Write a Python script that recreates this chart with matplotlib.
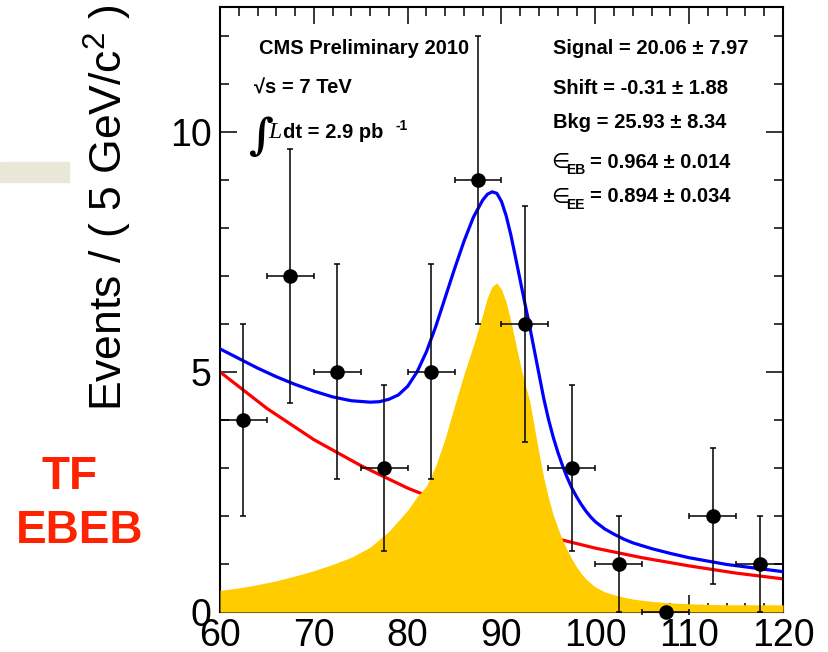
import numpy as np
import matplotlib
matplotlib.use("Agg")
import matplotlib.pyplot as plt
from matplotlib.patches import Rectangle
from matplotlib.ticker import MultipleLocator

plt.rcParams['font.family'] = ['Liberation Sans', 'DejaVu Sans']
plt.rcParams['mathtext.fontset'] = 'custom'
plt.rcParams['mathtext.rm'] = 'Liberation Sans'
plt.rcParams['mathtext.bf'] = 'Liberation Sans:bold'

# data points (bin centres, counts, errors)
bin_x = [62.5, 67.5, 72.5, 77.5, 82.5, 87.5, 92.5, 97.5, 102.5, 107.5, 112.5, 117.5]
counts = [4, 7, 5, 3, 5, 9, 6, 3, 1, 0, 2, 1]
err_y = [2.0, 2.65, 2.24, 1.73, 2.24, 3.0, 2.45, 1.73, 1.0, 0.0, 1.41, 1.0]
err_x = [2.5] * 12

# background curve
bkg_x = [60, 65, 70, 75, 80, 85, 90, 95, 100, 105, 110, 115, 120]
bkg_y = [5.00, 4.24, 3.59, 3.05, 2.58, 2.19, 1.86, 1.57, 1.33, 1.13, 0.96, 0.81, 0.69]

# signal shape (yellow)
sig_x = [60, 62, 64, 66, 68, 70, 72, 74, 76, 78, 80, 81, 82, 83, 84, 85, 86, 87,
         88, 88.5, 89, 89.5, 90, 90.5, 91, 91.5, 92, 92.5, 93, 93.5, 94, 94.5,
         95, 95.5, 96, 96.5, 97, 97.5, 98, 98.5, 99, 99.5, 100, 101, 102, 103,
         104, 105, 106, 108, 110, 112, 114, 116, 118, 120]
sig_y = [0.45, 0.50, 0.57, 0.65, 0.75, 0.86, 0.99, 1.14, 1.35, 1.68, 2.12, 2.40,
         2.62, 3.05, 3.62, 4.30, 4.95, 5.55, 6.20, 6.55, 6.78, 6.85, 6.72, 6.45,
         6.05, 5.60, 5.15, 4.75, 4.40, 3.85, 3.30, 2.80, 2.38, 2.03, 1.75, 1.50,
         1.29, 1.10, 0.94, 0.80, 0.69, 0.60, 0.52, 0.42, 0.36, 0.31, 0.27, 0.245,
         0.22, 0.19, 0.17, 0.16, 0.15, 0.15, 0.15, 0.15]

# total fit (blue)
tot_x = [60, 62, 64, 66, 68, 70, 72, 74, 76, 77, 78, 79, 80, 81, 82, 83, 84, 85,
         86, 87, 88, 88.5, 89, 89.5, 90, 90.5, 91, 91.5, 92, 92.5, 93, 93.5, 94,
         94.5, 95, 95.5, 96, 96.5, 97, 97.5, 98, 98.5, 99, 99.5, 100, 101, 102,
         103, 104, 106, 108, 110, 112, 114, 116, 118, 120]
tot_y = [5.48, 5.28, 5.08, 4.90, 4.74, 4.60, 4.48, 4.40, 4.37, 4.38, 4.43, 4.52,
         4.70, 5.00, 5.42, 5.95, 6.55, 7.15, 7.72, 8.22, 8.58, 8.70, 8.75, 8.72,
         8.55, 8.25, 7.85, 7.38, 6.90, 6.42, 5.95, 5.45, 4.95, 4.45, 4.02, 3.65,
         3.33, 3.05, 2.80, 2.58, 2.40, 2.24, 2.10, 1.98, 1.88, 1.73, 1.62, 1.52,
         1.44, 1.32, 1.22, 1.13, 1.06, 0.99, 0.94, 0.89, 0.84]

W, H = 829, 652
fig = plt.figure(figsize=(W / 100, H / 100), dpi=100)
ax = fig.add_axes([220 / W, 1 - 612 / H, 563 / W, 605 / H])

ax.plot(bkg_x, bkg_y, color='#ff0000', lw=2.3, zorder=2)
ax.fill_between(sig_x, 0, sig_y, color='#ffcc00', lw=0, zorder=3)
ax.plot(tot_x, tot_y, color='#0000ff', lw=2.3, zorder=4)
ax.errorbar(bin_x, counts, yerr=err_y, xerr=err_x, fmt='o', color='black',
            ms=9.5, elinewidth=1.1, capsize=2.5, capthick=1.1, zorder=6,
            clip_on=False)

ax.set_xlim(60, 120)
ax.set_ylim(0, 12.6)
ax.set_xticks([60, 70, 80, 90, 100, 110, 120])
ax.set_yticks([0, 5, 10])
ax.xaxis.set_minor_locator(MultipleLocator(2))
ax.yaxis.set_minor_locator(MultipleLocator(1))
ax.tick_params(which='both', direction='in', top=True, right=True, width=1.1)
ax.tick_params(which='major', length=12.5, labelsize=27, pad=4)
ax.tick_params(which='minor', length=6.5)
ax.tick_params(axis='y', pad=6)
for s in ax.spines.values():
    s.set_linewidth(1.5)

def ftxt(x, y, s, **kw):
    kw.setdefault('va', 'center')
    kw.setdefault('ha', 'left')
    return fig.text(x / W, 1 - y / H, s, **kw)

ftxt(108, 208, 'Events / ( 5 GeV/c$^2$ )', fontsize=32, rotation=90, ha='center')

# left box labels
ftxt(259, 48, 'CMS Preliminary 2010', fontsize=14.5, fontweight='bold')
ftxt(254, 88, '√s = 7 TeV', fontsize=14.5, fontweight='bold')
ftxt(249, 137, '∫', fontsize=31, fontweight='bold', family=['DejaVu Serif'])
ftxt(268, 133, 'L', fontsize=17, style='italic', family=['Liberation Serif', 'DejaVu Serif'])
ftxt(283, 133, 'dt = 2.9 pb', fontsize=14.5, fontweight='bold')
ftxt(396, 126, '-1', fontsize=10, fontweight='bold')

# fit results
ftxt(553, 48, 'Signal = 20.06 ± 7.97', fontsize=14.5, fontweight='bold')
ftxt(553, 88, 'Shift = -0.31 ± 1.88', fontsize=14.5, fontweight='bold')
ftxt(553, 123, 'Bkg = 25.93 ± 8.34', fontsize=14.5, fontweight='bold')
for y, sub, txt in [(162, 'EB', '= 0.964 ± 0.014'), (197, 'EE', '= 0.894 ± 0.034')]:
    ftxt(551, y, '∈', fontsize=15, family=['DejaVu Sans'])
    ftxt(566, y + 8, sub, fontsize=10, fontweight='bold')
    ftxt(590, y, txt, fontsize=14.5, fontweight='bold')

ftxt(70, 477, 'TF', fontsize=33, fontweight='bold', color='#ff2200', ha='center')
ftxt(80, 531, 'EBEB', fontsize=33, fontweight='bold', color='#ff2200', ha='center')

fig.patches.append(Rectangle((0, 1 - 182 / H), 69 / W, 20 / H, transform=fig.transFigure,
                             color='#e9e7d7', zorder=0))

fig.savefig('out.png', dpi=100)
